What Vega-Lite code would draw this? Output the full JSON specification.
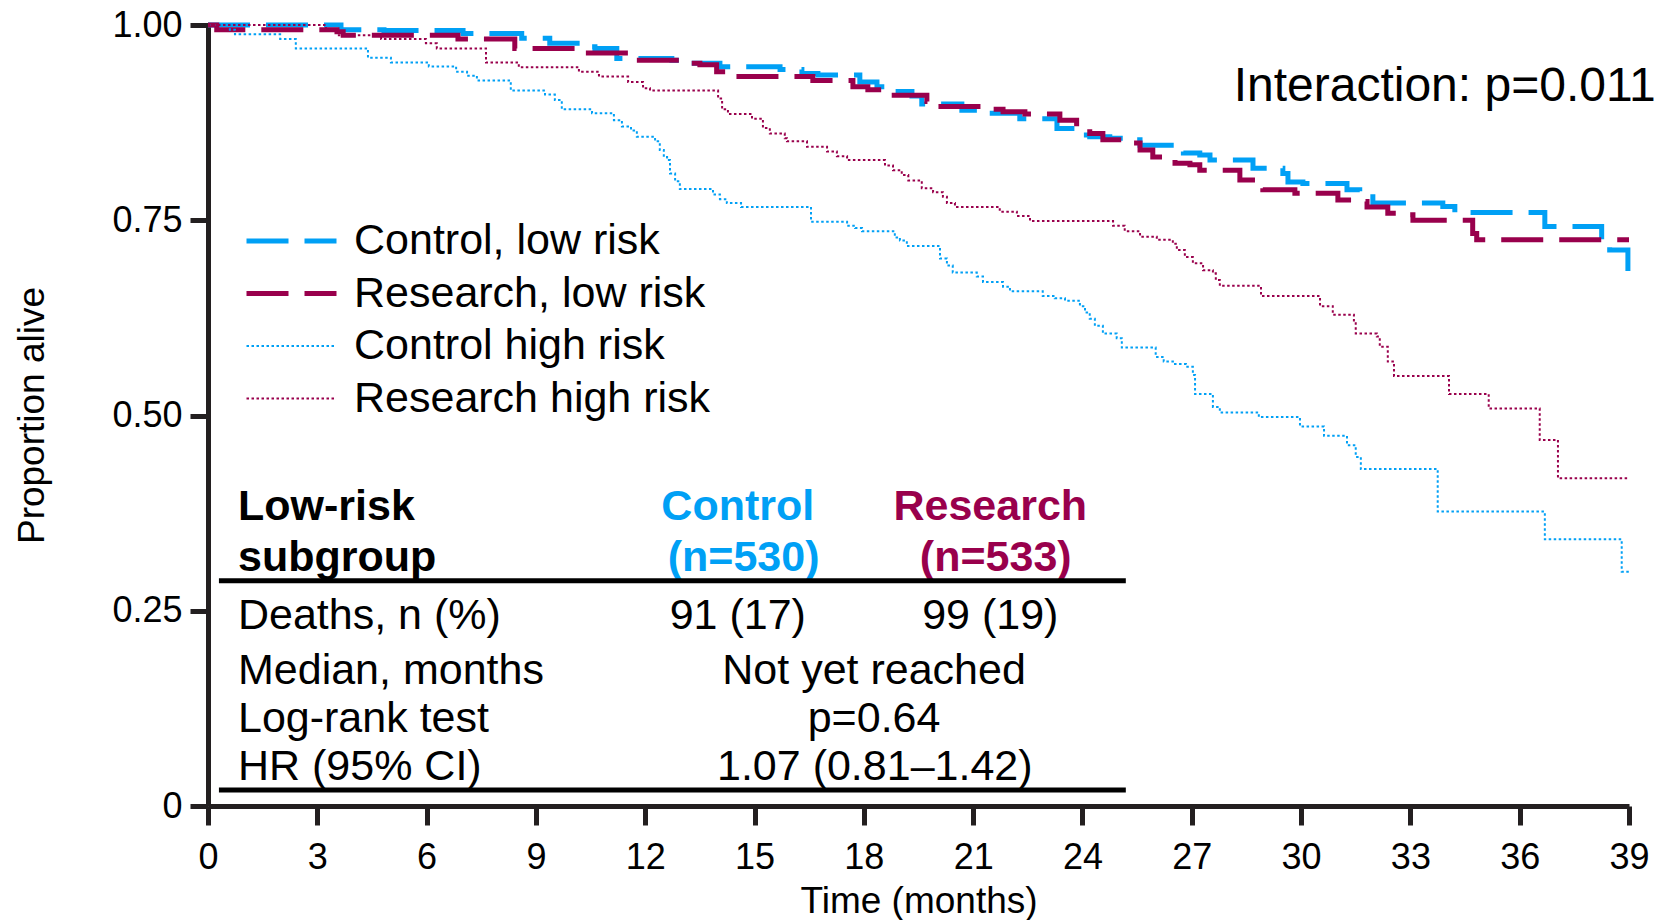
{
 "$schema": "https://vega.github.io/schema/vega-lite/v6.json",
 "width": 1421, "height": 781,
 "autosize": {"type": "none"},
 "padding": {"left": 208, "top": 25, "right": 32, "bottom": 114},
 "background": "white",
 "config": {
  "view": {"stroke": null},
  "font": "Liberation Sans",
  "text": {"font": "Liberation Sans", "fontSize": 43, "color": "black", "baseline": "alphabetic"},
  "axis": {"grid": false, "domainColor": "#231f20", "domainWidth": 5, "tickColor": "#231f20", "tickWidth": 5, "labelFont": "Liberation Sans", "labelFontSize": 36, "labelColor": "black", "titleFont": "Liberation Sans", "titleFontSize": 37, "titleFontWeight": "normal", "titleColor": "black", "labelFlush": false, "labelOverlap": false},
  "legend": {"orient": "none", "legendX": 36, "legendY": 195, "title": null, "symbolType": "stroke", "symbolSize": 8100, "labelFont": "Liberation Sans", "labelFontSize": 43, "labelColor": "black", "labelOffset": 15, "rowPadding": 9.5, "clipHeight": 42, "padding": 0, "labelLimit": 0}
 },
 "datasets": {
  "km": [
   {"group":"Control, low risk","month":0,"survival":1},{"group":"Control, low risk","month":3.65,"survival":0.994},{"group":"Control, low risk","month":4.83,"survival":0.993},{"group":"Control, low risk","month":7.0,"survival":0.989},{"group":"Control, low risk","month":8.61,"survival":0.983},{"group":"Control, low risk","month":9.38,"survival":0.9765},{"group":"Control, low risk","month":10.26,"survival":0.972},{"group":"Control, low risk","month":10.62,"survival":0.970},{"group":"Control, low risk","month":11.22,"survival":0.957},{"group":"Control, low risk","month":12.73,"survival":0.955},{"group":"Control, low risk","month":12.95,"survival":0.951},{"group":"Control, low risk","month":14.05,"survival":0.9465},{"group":"Control, low risk","month":15.70,"survival":0.943},{"group":"Control, low risk","month":16.30,"survival":0.938},{"group":"Control, low risk","month":16.74,"survival":0.936},{"group":"Control, low risk","month":17.89,"survival":0.927},{"group":"Control, low risk","month":18.36,"survival":0.921},{"group":"Control, low risk","month":18.80,"survival":0.915},{"group":"Control, low risk","month":19.32,"survival":0.909},{"group":"Control, low risk","month":19.59,"survival":0.899},{"group":"Control, low risk","month":20.69,"survival":0.891},{"group":"Control, low risk","month":21.41,"survival":0.887},{"group":"Control, low risk","month":22.28,"survival":0.880},{"group":"Control, low risk","month":23.30,"survival":0.8675},{"group":"Control, low risk","month":23.71,"survival":0.859},{"group":"Control, low risk","month":24.20,"survival":0.857},{"group":"Control, low risk","month":24.75,"survival":0.855},{"group":"Control, low risk","month":25.30,"survival":0.853},{"group":"Control, low risk","month":25.58,"survival":0.846},{"group":"Control, low risk","month":26.59,"survival":0.844},{"group":"Control, low risk","month":26.77,"survival":0.836},{"group":"Control, low risk","month":27.22,"survival":0.8335},{"group":"Control, low risk","month":27.50,"survival":0.827},{"group":"Control, low risk","month":28.68,"survival":0.8165},{"group":"Control, low risk","month":29.50,"survival":0.810},{"group":"Control, low risk","month":29.64,"survival":0.799},{"group":"Control, low risk","month":30.05,"survival":0.797},{"group":"Control, low risk","month":31.26,"survival":0.789},{"group":"Control, low risk","month":31.61,"survival":0.785},{"group":"Control, low risk","month":31.97,"survival":0.772},{"group":"Control, low risk","month":33.89,"survival":0.7675},{"group":"Control, low risk","month":34.22,"survival":0.760},{"group":"Control, low risk","month":36.69,"survival":0.742},{"group":"Control, low risk","month":38.25,"survival":0.720},{"group":"Control, low risk","month":38.47,"survival":0.712},{"group":"Control, low risk","month":38.97,"survival":0.680},{"group":"Control, low risk","month":39,"survival":0.680},
   {"group":"Research, low risk","month":0,"survival":1},{"group":"Research, low risk","month":0.24,"survival":0.994},{"group":"Research, low risk","month":3.54,"survival":0.9915},{"group":"Research, low risk","month":3.71,"survival":0.987},{"group":"Research, low risk","month":6.86,"survival":0.982},{"group":"Research, low risk","month":8.42,"survival":0.970},{"group":"Research, low risk","month":10.21,"survival":0.964},{"group":"Research, low risk","month":11.77,"survival":0.955},{"group":"Research, low risk","month":12.95,"survival":0.951},{"group":"Research, low risk","month":13.50,"survival":0.949},{"group":"Research, low risk","month":13.96,"survival":0.940},{"group":"Research, low risk","month":14.38,"survival":0.934},{"group":"Research, low risk","month":16.60,"survival":0.929},{"group":"Research, low risk","month":17.70,"survival":0.921},{"group":"Research, low risk","month":18.11,"survival":0.917},{"group":"Research, low risk","month":18.63,"survival":0.910},{"group":"Research, low risk","month":19.73,"survival":0.902},{"group":"Research, low risk","month":20.0,"survival":0.8956},{"group":"Research, low risk","month":21.24,"survival":0.892},{"group":"Research, low risk","month":21.82,"survival":0.889},{"group":"Research, low risk","month":22.42,"survival":0.886},{"group":"Research, low risk","month":23.38,"survival":0.878},{"group":"Research, low risk","month":23.84,"survival":0.8675},{"group":"Research, low risk","month":24.20,"survival":0.861},{"group":"Research, low risk","month":24.56,"survival":0.853},{"group":"Research, low risk","month":25.25,"survival":0.849},{"group":"Research, low risk","month":25.58,"survival":0.840},{"group":"Research, low risk","month":25.93,"survival":0.831},{"group":"Research, low risk","month":26.54,"survival":0.823},{"group":"Research, low risk","month":26.95,"survival":0.821},{"group":"Research, low risk","month":27.22,"survival":0.814},{"group":"Research, low risk","month":28.32,"survival":0.8015},{"group":"Research, low risk","month":28.95,"survival":0.789},{"group":"Research, low risk","month":29.83,"survival":0.7845},{"group":"Research, low risk","month":31.01,"survival":0.776},{"group":"Research, low risk","month":31.39,"survival":0.774},{"group":"Research, low risk","month":31.81,"survival":0.767},{"group":"Research, low risk","month":32.38,"survival":0.759},{"group":"Research, low risk","month":32.79,"survival":0.757},{"group":"Research, low risk","month":33.07,"survival":0.750},{"group":"Research, low risk","month":34.71,"survival":0.733},{"group":"Research, low risk","month":34.82,"survival":0.725},{"group":"Research, low risk","month":39,"survival":0.725},
   {"group":"Control high risk","month":0,"survival":1},{"group":"Control high risk","month":0.60,"survival":0.994},{"group":"Control high risk","month":0.74,"survival":0.988},{"group":"Control high risk","month":1.98,"survival":0.982},{"group":"Control high risk","month":2.41,"survival":0.970},{"group":"Control high risk","month":4.39,"survival":0.958},{"group":"Control high risk","month":5.02,"survival":0.952},{"group":"Control high risk","month":6.06,"survival":0.947},{"group":"Control high risk","month":6.81,"survival":0.940},{"group":"Control high risk","month":7.11,"survival":0.935},{"group":"Control high risk","month":7.38,"survival":0.929},{"group":"Control high risk","month":8.31,"survival":0.916},{"group":"Control high risk","month":9.25,"survival":0.911},{"group":"Control high risk","month":9.52,"survival":0.904},{"group":"Control high risk","month":9.71,"survival":0.892},{"group":"Control high risk","month":10.54,"survival":0.887},{"group":"Control high risk","month":11.14,"survival":0.878},{"group":"Control high risk","month":11.36,"survival":0.870},{"group":"Control high risk","month":11.61,"survival":0.865},{"group":"Control high risk","month":11.77,"survival":0.857},{"group":"Control high risk","month":12.27,"survival":0.851},{"group":"Control high risk","month":12.40,"survival":0.840},{"group":"Control high risk","month":12.51,"survival":0.831},{"group":"Control high risk","month":12.60,"survival":0.827},{"group":"Control high risk","month":12.68,"survival":0.810},{"group":"Control high risk","month":12.82,"survival":0.800},{"group":"Control high risk","month":12.95,"survival":0.790},{"group":"Control high risk","month":13.86,"survival":0.783},{"group":"Control high risk","month":14.05,"survival":0.777},{"group":"Control high risk","month":14.24,"survival":0.772},{"group":"Control high risk","month":14.63,"survival":0.767},{"group":"Control high risk","month":16.55,"survival":0.748},{"group":"Control high risk","month":17.54,"survival":0.743},{"group":"Control high risk","month":17.76,"survival":0.740},{"group":"Control high risk","month":17.95,"survival":0.736},{"group":"Control high risk","month":18.85,"survival":0.728},{"group":"Control high risk","month":18.99,"survival":0.724},{"group":"Control high risk","month":19.18,"survival":0.717},{"group":"Control high risk","month":20.09,"survival":0.701},{"group":"Control high risk","month":20.28,"survival":0.692},{"group":"Control high risk","month":20.44,"survival":0.683},{"group":"Control high risk","month":21.10,"survival":0.678},{"group":"Control high risk","month":21.27,"survival":0.671},{"group":"Control high risk","month":21.82,"survival":0.665},{"group":"Control high risk","month":22.01,"survival":0.659},{"group":"Control high risk","month":22.91,"survival":0.653},{"group":"Control high risk","month":23.24,"survival":0.650},{"group":"Control high risk","month":23.52,"survival":0.647},{"group":"Control high risk","month":23.93,"survival":0.640},{"group":"Control high risk","month":24.07,"survival":0.632},{"group":"Control high risk","month":24.20,"survival":0.624},{"group":"Control high risk","month":24.34,"survival":0.615},{"group":"Control high risk","month":24.56,"survival":0.605},{"group":"Control high risk","month":24.94,"survival":0.599},{"group":"Control high risk","month":25.08,"survival":0.587},{"group":"Control high risk","month":26.01,"survival":0.575},{"group":"Control high risk","month":26.23,"survival":0.569},{"group":"Control high risk","month":26.54,"survival":0.566},{"group":"Control high risk","month":26.84,"survival":0.5625},{"group":"Control high risk","month":27.03,"survival":0.552},{"group":"Control high risk","month":27.09,"survival":0.5275},{"group":"Control high risk","month":27.58,"survival":0.511},{"group":"Control high risk","month":27.77,"survival":0.504},{"group":"Control high risk","month":28.84,"survival":0.498},{"group":"Control high risk","month":29.97,"survival":0.486},{"group":"Control high risk","month":30.63,"survival":0.474},{"group":"Control high risk","month":31.26,"survival":0.462},{"group":"Control high risk","month":31.50,"survival":0.447},{"group":"Control high risk","month":31.64,"survival":0.4315},{"group":"Control high risk","month":33.75,"survival":0.377},{"group":"Control high risk","month":36.69,"survival":0.3415},{"group":"Control high risk","month":38.80,"survival":0.300},{"group":"Control high risk","month":39,"survival":0.300},
   {"group":"Research high risk","month":0,"survival":1},{"group":"Research high risk","month":3.24,"survival":0.994},{"group":"Research high risk","month":3.54,"survival":0.987},{"group":"Research high risk","month":4.75,"survival":0.982},{"group":"Research high risk","month":5.98,"survival":0.9765},{"group":"Research high risk","month":6.28,"survival":0.970},{"group":"Research high risk","month":7.63,"survival":0.952},{"group":"Research high risk","month":8.53,"survival":0.946},{"group":"Research high risk","month":10.18,"survival":0.940},{"group":"Research high risk","month":10.73,"survival":0.934},{"group":"Research high risk","month":11.53,"survival":0.927},{"group":"Research high risk","month":11.94,"survival":0.919},{"group":"Research high risk","month":12.13,"survival":0.916},{"group":"Research high risk","month":14.0,"survival":0.906},{"group":"Research high risk","month":14.11,"survival":0.892},{"group":"Research high risk","month":14.27,"survival":0.886},{"group":"Research high risk","month":14.93,"survival":0.880},{"group":"Research high risk","month":15.23,"survival":0.868},{"group":"Research high risk","month":15.42,"survival":0.861},{"group":"Research high risk","month":15.83,"survival":0.855},{"group":"Research high risk","month":15.89,"survival":0.851},{"group":"Research high risk","month":16.44,"survival":0.844},{"group":"Research high risk","month":16.99,"survival":0.838},{"group":"Research high risk","month":17.26,"survival":0.832},{"group":"Research high risk","month":17.54,"survival":0.827},{"group":"Research high risk","month":18.58,"survival":0.820},{"group":"Research high risk","month":18.80,"survival":0.814},{"group":"Research high risk","month":19.04,"survival":0.808},{"group":"Research high risk","month":19.22,"survival":0.801},{"group":"Research high risk","month":19.59,"survival":0.791},{"group":"Research high risk","month":19.90,"survival":0.786},{"group":"Research high risk","month":20.17,"survival":0.780},{"group":"Research high risk","month":20.28,"survival":0.772},{"group":"Research high risk","month":20.50,"survival":0.767},{"group":"Research high risk","month":21.73,"survival":0.761},{"group":"Research high risk","month":22.20,"survival":0.7555},{"group":"Research high risk","month":22.56,"survival":0.749},{"group":"Research high risk","month":24.84,"survival":0.743},{"group":"Research high risk","month":25.16,"survival":0.736},{"group":"Research high risk","month":25.58,"survival":0.729},{"group":"Research high risk","month":26.04,"survival":0.725},{"group":"Research high risk","month":26.48,"survival":0.720},{"group":"Research high risk","month":26.59,"survival":0.712},{"group":"Research high risk","month":26.81,"survival":0.703},{"group":"Research high risk","month":27.03,"survival":0.695},{"group":"Research high risk","month":27.31,"survival":0.686},{"group":"Research high risk","month":27.58,"survival":0.682},{"group":"Research high risk","month":27.66,"survival":0.6735},{"group":"Research high risk","month":27.77,"survival":0.666},{"group":"Research high risk","month":28.90,"survival":0.653},{"group":"Research high risk","month":30.52,"survival":0.640},{"group":"Research high risk","month":30.87,"survival":0.629},{"group":"Research high risk","month":31.45,"survival":0.620},{"group":"Research high risk","month":31.50,"survival":0.605},{"group":"Research high risk","month":32.08,"survival":0.601},{"group":"Research high risk","month":32.16,"survival":0.588},{"group":"Research high risk","month":32.38,"survival":0.569},{"group":"Research high risk","month":32.55,"survival":0.5506},{"group":"Research high risk","month":34.06,"survival":0.5275},{"group":"Research high risk","month":35.15,"survival":0.509},{"group":"Research high risk","month":36.55,"survival":0.4686},{"group":"Research high risk","month":37.05,"survival":0.4195},{"group":"Research high risk","month":39,"survival":0.4195}
  ]
 },
 "layer": [
  {
   "data": {"name": "km"},
   "mark": {"type": "line", "interpolate": "step-after", "strokeCap": "butt", "strokeJoin": "miter"},
   "encoding": {
    "x": {"field": "month", "type": "quantitative", "scale": {"domain": [0, 39], "nice": false, "zero": false},
     "axis": {"values": [0,3,6,9,12,15,18,21,24,27,30,33,36,39], "tickSize": 19, "labelPadding": 15, "title": "Time (months)", "titleY": 106, "titleBaseline": "alphabetic"}},
    "y": {"field": "survival", "type": "quantitative", "scale": {"domain": [0, 1], "nice": false},
     "axis": {"values": [0, 0.25, 0.5, 0.75, 1], "labelExpr": "datum.value === 0 ? '0' : format(datum.value, '.2f')", "tickSize": 18, "labelPadding": 8, "title": "Proportion alive", "titleAngle": -90, "titleX": -165, "titleY": 390, "titleAlign": "center", "titleBaseline": "alphabetic"}},
    "color": {"field": "group", "type": "nominal", "scale": {"domain": ["Control, low risk", "Research, low risk", "Control high risk", "Research high risk"], "range": ["#00a0f5", "#99004c", "#00a0f5", "#99004c"]}, "legend": {"title": null}},
    "strokeDash": {"field": "group", "type": "nominal", "scale": {"domain": ["Control, low risk", "Research, low risk", "Control high risk", "Research high risk"], "range": [[42, 16], [42, 16], [2.5, 2.5], [2.5, 2.5]]}, "legend": {"title": null}},
    "strokeWidth": {"field": "group", "type": "nominal", "scale": {"type": "ordinal", "domain": ["Control, low risk", "Research, low risk", "Control high risk", "Research high risk"], "range": [5, 5, 2, 2]}, "legend": {"title": null}}
   }
  },
  {"data": {"values": [{}]}, "mark": {"type": "text", "align": "left", "fontSize": 48}, "encoding": {"x": {"datum": 28.15}, "y": {"datum": 0.9031}, "text": {"value": "Interaction: p=0.011"}}},
  {"data": {"values": [{}]}, "mark": {"type": "text", "align": "left", "fontWeight": "bold"}, "encoding": {"x": {"datum": 0.823}, "y": {"datum": 0.3662}, "text": {"value": "Low-risk"}}},
  {"data": {"values": [{}]}, "mark": {"type": "text", "align": "left", "fontWeight": "bold"}, "encoding": {"x": {"datum": 0.823}, "y": {"datum": 0.3009}, "text": {"value": "subgroup"}}},
  {"data": {"values": [{}]}, "mark": {"type": "text", "align": "center", "fontWeight": "bold", "color": "#00a0f5"}, "encoding": {"x": {"datum": 14.54}, "y": {"datum": 0.3662}, "text": {"value": "Control"}}},
  {"data": {"values": [{}]}, "mark": {"type": "text", "align": "center", "fontWeight": "bold", "color": "#00a0f5"}, "encoding": {"x": {"datum": 14.70}, "y": {"datum": 0.3009}, "text": {"value": "(n=530)"}}},
  {"data": {"values": [{}]}, "mark": {"type": "text", "align": "center", "fontWeight": "bold", "color": "#99004c"}, "encoding": {"x": {"datum": 21.47}, "y": {"datum": 0.3662}, "text": {"value": "Research"}}},
  {"data": {"values": [{}]}, "mark": {"type": "text", "align": "center", "fontWeight": "bold", "color": "#99004c"}, "encoding": {"x": {"datum": 21.62}, "y": {"datum": 0.3009}, "text": {"value": "(n=533)"}}},
  {"data": {"values": [{}]}, "mark": {"type": "rule", "strokeWidth": 5, "color": "black"}, "encoding": {"x": {"datum": 0.30}, "x2": {"datum": 25.19}, "y": {"datum": 0.2885}}},
  {"data": {"values": [{}]}, "mark": {"type": "text", "align": "left"}, "encoding": {"x": {"datum": 0.823}, "y": {"datum": 0.2266}, "text": {"value": "Deaths, n (%)"}}},
  {"data": {"values": [{}]}, "mark": {"type": "text", "align": "center"}, "encoding": {"x": {"datum": 14.54}, "y": {"datum": 0.2266}, "text": {"value": "91 (17)"}}},
  {"data": {"values": [{}]}, "mark": {"type": "text", "align": "center"}, "encoding": {"x": {"datum": 21.47}, "y": {"datum": 0.2266}, "text": {"value": "99 (19)"}}},
  {"data": {"values": [{}]}, "mark": {"type": "text", "align": "left"}, "encoding": {"x": {"datum": 0.823}, "y": {"datum": 0.1562}, "text": {"value": "Median, months"}}},
  {"data": {"values": [{}]}, "mark": {"type": "text", "align": "center"}, "encoding": {"x": {"datum": 18.28}, "y": {"datum": 0.1562}, "text": {"value": "Not yet reached"}}},
  {"data": {"values": [{}]}, "mark": {"type": "text", "align": "left"}, "encoding": {"x": {"datum": 0.823}, "y": {"datum": 0.0948}, "text": {"value": "Log-rank test"}}},
  {"data": {"values": [{}]}, "mark": {"type": "text", "align": "center"}, "encoding": {"x": {"datum": 18.28}, "y": {"datum": 0.0948}, "text": {"value": "p=0.64"}}},
  {"data": {"values": [{}]}, "mark": {"type": "text", "align": "left"}, "encoding": {"x": {"datum": 0.823}, "y": {"datum": 0.0333}, "text": {"value": "HR (95% CI)"}}},
  {"data": {"values": [{}]}, "mark": {"type": "text", "align": "center"}, "encoding": {"x": {"datum": 18.3}, "y": {"datum": 0.0333}, "text": {"value": "1.07 (0.81–1.42)"}}},
  {"data": {"values": [{}]}, "mark": {"type": "rule", "strokeWidth": 5, "color": "black"}, "encoding": {"x": {"datum": 0.30}, "x2": {"datum": 25.19}, "y": {"datum": 0.0205}}}
 ]
}
